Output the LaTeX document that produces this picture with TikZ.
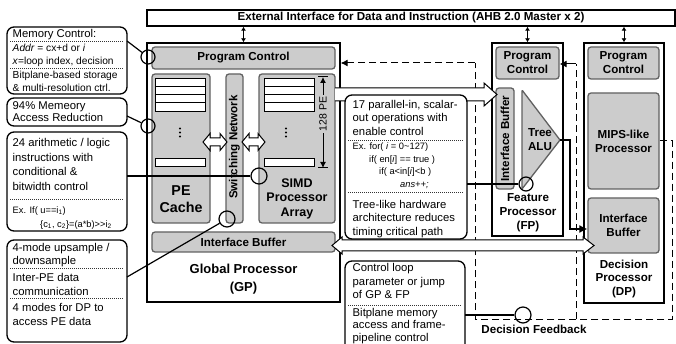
\documentclass[tikz,border=0pt]{standalone}
\usepackage{fontspec}
\setmainfont{Liberation Sans}
\usetikzlibrary{arrows.meta}

% box node from its corner coordinates: [style]{name}{x1}{y1}{x2}{y2}{text}
\newcommand\mkbox[7][]{%
  \pgfmathsetmacro\mkcx{(#3+#5)/2}%
  \pgfmathsetmacro\mkcy{(#4+#6)/2}%
  \pgfmathsetmacro\mkw{#5-#3}%
  \pgfmathsetmacro\mkh{#6-#4}%
  \node[#1,minimum width=\mkw pt,minimum height=\mkh pt,inner sep=0pt] (#2) at (\mkcx,\mkcy) {#7};%
}

\begin{document}
\begin{tikzpicture}[x=1pt,y=-1pt,
  outerbox/.style={draw=black,line width=1.3pt},
  gbox/.style={draw=black!62,fill=black!20,line width=1.3pt,rounded corners=3pt},
  cellbox/.style={draw=black,fill=white,line width=0.9pt},
  notebox/.style={draw=black,fill=white,line width=1.3pt,rounded corners=7pt},
  dotsep/.style={black!80,line width=0.8pt,dash pattern=on 1pt off 1pt},
  lbl/.style={font=\bfseries\fontsize{11.6}{14}\selectfont,align=center},
  bodytxt/.style={font=\fontsize{11.3}{13}\selectfont,inner sep=0pt,anchor=base west},
  midtxt/.style={font=\fontsize{10.2}{12}\selectfont,inner sep=0pt,anchor=base west},
  smalltxt/.style={font=\fontsize{9.3}{11}\selectfont,inner sep=0pt,anchor=base west},
  ring/.style={circle,draw=black,line width=1.2pt,inner sep=0pt,minimum size=#1},
  leader/.style={draw=black,line width=1.2pt},
  fback/.style={draw=black,line width=1pt,dash pattern=on 7pt off 4pt},
  fatarrow/.style={draw=black,fill=white,line width=1pt,line join=miter},
  busarrow/.style={draw=black,line width=1pt,{Latex[length=4pt,width=5pt]}-{Latex[length=4pt,width=5pt]}},
  headarrow/.style={-{Latex[length=7pt,width=7pt]}},
]
\useasboundingbox (0,0) rectangle (676,344);
\clip (0,0) rectangle (676,344);

% ---------- bus and processor frames ----------
\mkbox[outerbox,lbl]{ext}{147}{10}{675}{26}{External Interface for Data and Instruction (AHB 2.0 Master x 2)}
\mkbox[outerbox]{gp}{147}{43}{340}{302}{}
\mkbox[outerbox]{fp}{492}{43}{563}{236}{}
\mkbox[outerbox]{dp}{584}{43}{664}{303}{}
\draw[busarrow] (ext.south -| gp.north) -- (gp.north);
\draw[busarrow] (ext.south -| fp.north) -- (fp.north);
\draw[busarrow] (ext.south -| dp.north) -- (dp.north);

% ---------- global processor ----------
\mkbox[gbox,lbl]{gppc}{152}{47}{335}{69}{Program Control}
\mkbox[gbox]{pec}{152}{74}{210}{223}{}
\mkbox[gbox]{swn}{226}{74}{243}{223}{}
\mkbox[gbox]{simd}{259}{74}{335}{223}{}
\mkbox[gbox,lbl]{gpib}{152}{232}{335}{252}{Interface Buffer}
\foreach \x in {155,264}{
  \foreach \k in {0,...,3} \draw[cellbox] (\x,78+\k*8.25) rectangle ++(50,8.25);
  \draw[cellbox] (\x,158) rectangle ++(50,8);
}
\foreach \y in {128.5,132.5,136.5}{
  \fill (180,\y) circle[radius=1.1pt];
  \fill (286,\y) circle[radius=1.1pt];
}
\node[lbl,font=\bfseries\fontsize{14.3}{17}\selectfont] (pelbl) at (181,199.5) {PE\\Cache};
\node[lbl,font=\bfseries\fontsize{12.5}{14.5}\selectfont] (simdlbl) at (297,198.5) {SIMD\\Processor\\Array};
\node[lbl,rotate=90] (swlbl) at (234.5,147) {Switching Network};
\node[lbl,font=\bfseries\fontsize{13}{18}\selectfont] (gplbl) at (243.5,279) {Global Processor\\(GP)};

% PE count dimension
\node[font=\fontsize{10.5}{12}\selectfont,rotate=90,inner sep=2pt] (pedim) at (323,114) {128 PE};
\coordinate (dimtop) at (323,77);
\coordinate (dimbot) at (323,168);
\draw[line width=1pt,-{Latex[length=6pt,width=6pt]}] (pedim.east) -- (dimtop);
\draw[line width=1pt,-{Latex[length=6pt,width=6pt]}] (pedim.west) -- (dimbot);
\draw[line width=1pt] (318,77) -- (328,77);
\draw[line width=1pt] (318,168) -- (328,168);

% switching network links
\draw[fatarrow] (203,142) -- (210,133.5) -- (210,138) -- (220,138) -- (220,133.5) -- (227,142)
  -- (220,150.5) -- (220,146) -- (210,146) -- (210,150.5) -- cycle;
\draw[fatarrow] (242,142) -- (249,133.5) -- (249,138) -- (258,138) -- (258,133.5) -- (265,142)
  -- (258,150.5) -- (258,146) -- (249,146) -- (249,150.5) -- cycle;

% ---------- feature processor ----------
\mkbox[gbox,lbl]{fppc}{496}{47}{559}{79}{Program\\Control}
\mkbox[gbox]{fpib}{496}{88}{514}{189}{}
\node[lbl,rotate=90] (fpiblbl) at (fpib) {Interface Buffer};
\coordinate (alutop) at (522,90);
\coordinate (alubot) at (522,189);
\coordinate (alutip) at (560,140);
\draw[gbox,rounded corners=1pt] (alutop) -- (alutip) -- (alubot) -- cycle;
\node[lbl] (alulbl) at (540,140) {Tree\\ALU};
\node[lbl] (fplbl) at (528,212.5) {Feature\\Processor\\(FP)};

% ---------- decision processor ----------
\mkbox[gbox,lbl]{dppc}{588}{47}{659}{79}{Program\\Control}
\mkbox[gbox,lbl]{mips}{588}{93}{659}{189}{MIPS-like\\Processor}
\mkbox[gbox,lbl]{dpib}{588}{198}{659}{253}{Interface\\Buffer}
\node[lbl] (dplbl) at (624,279) {Decision\\Processor\\(DP)};

% ---------- decision feedback ----------
\coordinate (fbA) at (475,63);
\coordinate (fbB) at (475,319);
\coordinate (fbC) at (672,319);
\coordinate (fbD) at (672,141);
\coordinate (fbE) at (576,319);
\coordinate (fbF) at (576,64);
\draw[fback] (mips.east) -- (fbD) -- (fbC) -- (fbB) -- (fbA);
\draw[fback,headarrow] (fbA) -- (fbA -| gp.east);
\draw[fback] (fbE) -- (fbF);
\draw[line width=1pt,headarrow] (fbF) -- (fbF -| fppc.east);
\node[lbl] (fblbl) at (534,329.5) {Decision Feedback};

% ---------- data paths ----------
\draw[fatarrow] (335,88) -- (484,88) -- (484,83) -- (497,94.5) -- (484,106) -- (484,101) -- (335,101);
\draw[fatarrow] (332,245.5) -- (342,237) -- (342,240) -- (583,240) -- (583,237) -- (594,245.5)
  -- (583,254) -- (583,251) -- (342,251) -- (342,254) -- cycle;
\coordinate (aluturn) at (570,140);
\coordinate (alulow) at (570,229);
\draw[line width=1.2pt,-{Latex[length=8pt,width=8pt]}] (alutip) -- (aluturn) -- (alulow) -- (alulow -| dpib.west);

% ---------- notes ----------
\mkbox[notebox]{n1}{7}{27}{127}{94}{}
\node[bodytxt] (n1a) at (12.5,38) {Memory Control:};
\draw[dotsep] (10,41) -- (124,41);
\node[midtxt] (n1b) at (12.5,52) {\textit{Addr} = cx+d or \textit{i}};
\node[midtxt] (n1c) at (12.5,65) {\textit{x}=loop index, decision};
\draw[dotsep] (10,68) -- (124,68);
\node[midtxt] (n1d) at (12.5,78.5) {Bitplane-based storage};
\node[midtxt] (n1e) at (12.5,91.5) {\& multi-resolution ctrl.};

\mkbox[notebox]{n2}{7}{98}{127}{126}{}
\node[bodytxt] (n2a) at (12.5,110) {94\% Memeory};
\node[bodytxt] (n2b) at (12.5,122) {Access Reduction};

\mkbox[notebox]{n3}{7}{132}{127}{231}{}
\node[bodytxt] (n3a) at (12.5,147) {24 arithmetic / logic};
\node[bodytxt] (n3b) at (12.5,161.5) {instructions with};
\node[bodytxt] (n3c) at (12.5,176) {conditional \&};
\node[bodytxt] (n3d) at (12.5,190.5) {bitwidth control};
\draw[dotsep] (10,199) -- (124,199);
\node[smalltxt] (n3e) at (12.5,213.5) {Ex. If( u==i\textsubscript{1})};
\node[smalltxt] (n3f) at (40,227.5) {\{c\textsubscript{1}, c\textsubscript{2}\}=(a*b)>{}>i\textsubscript{2}};

\mkbox[notebox]{n4}{7}{240}{127}{342}{}
\node[bodytxt] (n4a) at (12.5,251.5) {4-mode upsample /};
\node[bodytxt] (n4b) at (12.5,264.5) {downsample};
\draw[dotsep] (10,268.5) -- (124,268.5);
\node[bodytxt] (n4c) at (12.5,281.5) {Inter-PE data};
\node[bodytxt] (n4d) at (12.5,295) {communication};
\draw[dotsep] (10,298.5) -- (124,298.5);
\node[bodytxt] (n4e) at (12.5,311.5) {4 modes for DP to};
\node[bodytxt] (n4f) at (12.5,325) {access PE data};

\mkbox[notebox]{n5}{345}{95}{467}{239}{}
\node[bodytxt] (n5a) at (352.5,108.5) {17 parallel-in, scalar-};
\node[bodytxt] (n5b) at (352.5,122) {out operations with};
\node[bodytxt] (n5c) at (352.5,135.5) {enable control};
\draw[dotsep] (348,140) -- (464,140);
\node[smalltxt] (n5d) at (352.5,149.5) {Ex. for( \textit{i} = 0\textasciitilde127)};
\node[smalltxt] (n5e) at (369,162.5) {if( en[\textit{i}] == true )};
\node[smalltxt] (n5f) at (379,175) {if( a<in[\textit{i}]<b )};
\node[smalltxt] (n5g) at (400,188) {\textit{ans++;}};
\draw[dotsep] (348,192.5) -- (464,192.5);
\node[bodytxt] (n5h) at (352.5,208.5) {Tree-like hardware};
\node[bodytxt] (n5i) at (352.5,222) {architecture reduces};
\node[bodytxt] (n5j) at (352.5,235.5) {timing critical path};

\mkbox[notebox]{n6}{345}{261}{465}{362}{}
\node[bodytxt] (n6a) at (352.5,272) {Control loop};
\node[bodytxt] (n6b) at (352.5,285.3) {parameter or jump};
\node[bodytxt] (n6c) at (352.5,298.6) {of GP \& FP};
\draw[dotsep] (348,305) -- (462,305);
\node[bodytxt] (n6d) at (352.5,316.3) {Bitplane memory};
\node[bodytxt] (n6e) at (352.5,328.7) {access and frame-};
\node[bodytxt] (n6f) at (352.5,341.1) {pipeline control};

% ---------- pointers from notes ----------
\node[ring=14pt] (r1) at (148,57) {};
\node[ring=14pt] (r2) at (148,126) {};
\node[ring=16pt] (r3) at (259,176) {};
\node[ring=16pt] (r4) at (227,219) {};
\node[ring=14pt] (r5) at (526,184) {};
\node[ring=16pt] (r6) at (523,315) {};
\coordinate (k1) at (127,41);
\coordinate (k2) at (127,116);
\coordinate (k3) at (127,176);
\coordinate (k4) at (127,277);
\coordinate (k5) at (467,184);
\coordinate (k6) at (465,315);
\draw[leader] (k1) -- (r1);
\draw[leader] (k2) -- (r2);
\draw[leader] (k3) -- (r3);
\draw[leader] (k4) -- (r4);
\draw[leader] (k5) -- (r5);
\draw[leader] (k6) -- (r6);
\end{tikzpicture}
\end{document}
